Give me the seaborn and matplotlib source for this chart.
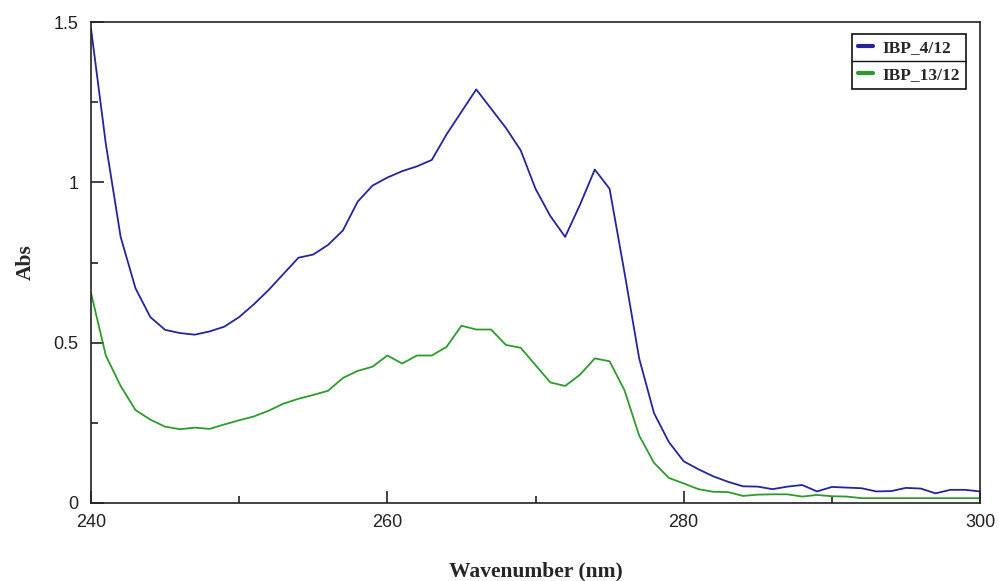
import matplotlib
matplotlib.use("Agg")
import matplotlib.pyplot as plt
from matplotlib.lines import Line2D
from matplotlib.ticker import MultipleLocator
import seaborn as sns
import pandas as pd
import numpy as np

sns.set_theme(style="ticks")
plt.rcParams["font.family"] = ["Liberation Sans", "DejaVu Sans"]

# ─── Data (1 nm steps) ────────────────────────────────────────────────────────
wavelength = list(range(240, 301))

ibp_4_12 = [
    1.48, 1.12, 0.83, 0.67, 0.58, 0.54, 0.53, 0.525, 0.535, 0.55,   # 240-249
    0.58, 0.62, 0.665, 0.715, 0.765, 0.775, 0.805, 0.85, 0.94, 0.99,  # 250-259
    1.015, 1.035, 1.05, 1.07, 1.15, 1.22, 1.29, 1.23, 1.17, 1.10,    # 260-269
    0.98, 0.895, 0.83, 0.93, 1.04, 0.98, 0.72, 0.45, 0.28, 0.19,     # 270-279
    0.13, 0.105, 0.083, 0.066, 0.052, 0.051, 0.043, 0.051, 0.056, 0.036,  # 280-289
    0.05, 0.048, 0.046, 0.036, 0.037, 0.047, 0.045, 0.03, 0.041, 0.041,   # 290-299
    0.036,                                                            # 300
]

ibp_13_12 = [
    0.655, 0.46, 0.365, 0.29, 0.26, 0.238, 0.23, 0.235, 0.231, 0.245,  # 240-249
    0.258, 0.27, 0.288, 0.31, 0.325, 0.337, 0.35, 0.39, 0.412, 0.425,  # 250-259
    0.46, 0.435, 0.46, 0.46, 0.487, 0.553, 0.541, 0.541, 0.493, 0.484,  # 260-269
    0.43, 0.376, 0.365, 0.40, 0.451, 0.442, 0.352, 0.21, 0.125, 0.078,  # 270-279
    0.061, 0.043, 0.035, 0.034, 0.022, 0.026, 0.027, 0.027, 0.02, 0.025,  # 280-289
    0.021, 0.02, 0.015, 0.015, 0.015, 0.015, 0.015, 0.015, 0.015, 0.015,  # 290-299
    0.015,                                                              # 300
]

series_names = ["IBP_4/12", "IBP_13/12"]
COLORS = {"IBP_4/12": "#25259a", "IBP_13/12": "#2e9a2e"}

df = pd.concat([
    pd.DataFrame({"wavelength": wavelength, "abs": ibp_4_12, "sample": series_names[0]}),
    pd.DataFrame({"wavelength": wavelength, "abs": ibp_13_12, "sample": series_names[1]}),
])

# ─── Figure ───────────────────────────────────────────────────────────────────
fig = plt.figure(figsize=(9.99, 5.81), dpi=100)
ax = fig.add_axes([0.0911, 0.1343, 0.8899, 0.8277])

sns.lineplot(data=df, x="wavelength", y="abs", hue="sample", palette=COLORS,
             linewidth=1.3, ax=ax, legend=False)

ax.set_xlim(240, 300)
ax.set_ylim(0, 1.5)
ax.xaxis.set_major_locator(MultipleLocator(20))
ax.xaxis.set_minor_locator(MultipleLocator(10))
ax.yaxis.set_minor_locator(MultipleLocator(0.25))
ax.set_yticks([0, 0.5, 1, 1.5])
ax.set_yticklabels(["0", "0.5", "1", "1.5"])

ax.tick_params(which="both", direction="in", color="#333333", width=1.3,
               labelsize=13, labelcolor="#222222")
ax.tick_params(which="major", length=9)
ax.tick_params(which="minor", length=5)
ax.tick_params(axis="x", pad=8)
ax.tick_params(axis="y", pad=9)

for sp in ax.spines.values():
    sp.set_color("#222222")
    sp.set_linewidth(1.2)

ax.set_xlabel("Wavenumber (nm)", family=["Liberation Serif"], fontweight="bold",
              fontsize=15.5, labelpad=22)
ax.set_ylabel("Abs", family=["Liberation Serif"], fontweight="bold",
              fontsize=15.5, labelpad=13)

handles = [Line2D([0], [0], color=COLORS[n], linewidth=3) for n in series_names]
leg = ax.legend(handles, series_names, loc="upper right",
                bbox_to_anchor=(0.9935, 0.9935), frameon=True, fancybox=False,
                edgecolor="#111111", framealpha=1, handlelength=0.9,
                handletextpad=0.5, borderpad=0.35, labelspacing=0.6,
                prop={"family": "Liberation Serif", "weight": "bold", "size": 12.5})
leg.get_frame().set_linewidth(1.2)

# divider line between the two legend rows
fig.canvas.draw()
bb = leg.get_window_extent().transformed(fig.transFigure.inverted())
ymid = (bb.y0 + bb.y1) / 2
fig.add_artist(Line2D([bb.x0, bb.x1], [ymid, ymid], transform=fig.transFigure,
                      color="#111111", linewidth=1.0))

fig.savefig("out.png", dpi=100)
